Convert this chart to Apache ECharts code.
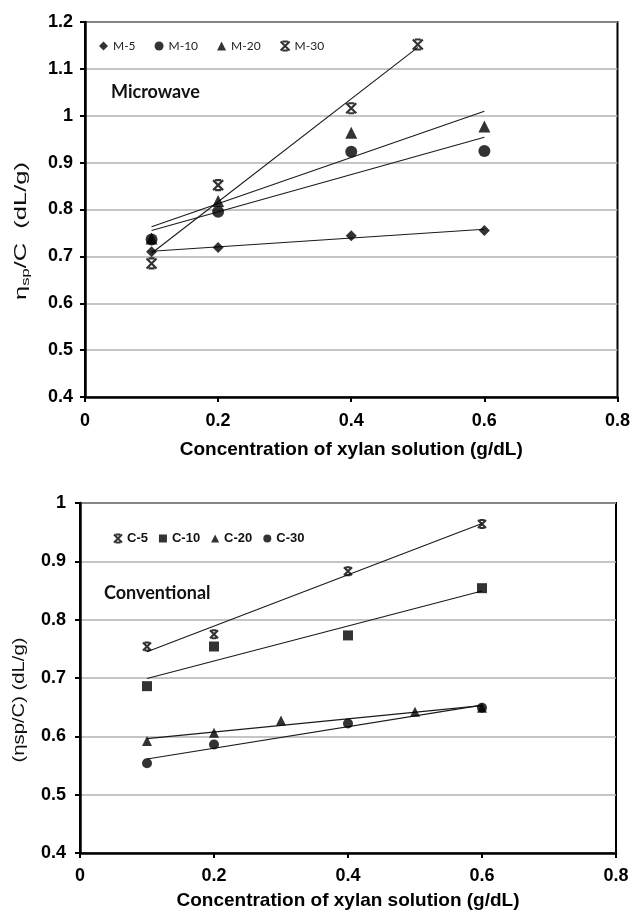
<!DOCTYPE html>
<html>
<head>
<meta charset="utf-8">
<script src="https://cdn.jsdelivr.net/npm/echarts@6/dist/echarts.min.js"></script>
<style>
html,body{margin:0;padding:0;background:#fff;}
#chart{width:633px;height:911px;}
</style>
</head>
<body>
<div id="chart"></div>
<script>
// ---- Data ----
const xTicksTop = [0, 0.2, 0.4, 0.6, 0.8];
const yTicksTop = [0.4, 0.5, 0.6, 0.7, 0.8, 0.9, 1.0, 1.1, 1.2];
const yTicksBottom = [0.4, 0.5, 0.6, 0.7, 0.8, 0.9, 1.0];

const namesTop = ['M-5', 'M-10', 'M-20', 'M-30'];
const xM5 = [0.1, 0.2, 0.4, 0.6];
const yM5 = [0.710, 0.719, 0.744, 0.755];
const xM10 = [0.1, 0.2, 0.4, 0.6];
const yM10 = [0.736, 0.795, 0.923, 0.925];
const xM20 = [0.1, 0.2, 0.4, 0.6];
const yM20 = [0.738, 0.818, 0.964, 0.977];
const xM30 = [0.1, 0.2, 0.4, 0.5];
const yM30 = [0.685, 0.852, 1.016, 1.152];

const namesBottom = ['C-5', 'C-10', 'C-20', 'C-30'];
const xC5 = [0.1, 0.2, 0.4, 0.6];
const yC5 = [0.754, 0.775, 0.883, 0.964];
const xC10 = [0.1, 0.2, 0.4, 0.6];
const yC10 = [0.686, 0.754, 0.773, 0.854];
const xC20 = [0.1, 0.2, 0.3, 0.5, 0.6];
const yC20 = [0.592, 0.606, 0.627, 0.642, 0.649];
const xC30 = [0.1, 0.2, 0.4, 0.6];
const yC30 = [0.554, 0.586, 0.622, 0.649];

// ---- helpers ----
function pairs(xs, ys) { return xs.map((x, i) => [x, ys[i]]); }
// linear least-squares trendline (as Excel's linear trendline), spanning data x-range
function trend(xs, ys) {
  const n = xs.length;
  const mx = xs.reduce((a, b) => a + b, 0) / n;
  const my = ys.reduce((a, b) => a + b, 0) / n;
  let sxx = 0, sxy = 0;
  for (let i = 0; i < n; i++) { sxx += (xs[i] - mx) ** 2; sxy += (xs[i] - mx) * (ys[i] - my); }
  const b = sxy / sxx, a = my - b * mx;
  const x0 = Math.min(...xs), x1 = Math.max(...xs);
  return [[x0, a + b * x0], [x1, a + b * x1]];
}

const STAR = 'path://M2,0L8,0M2,10L8,10M0,0L10,10M10,0L0,10';

function scatter(name, xs, ys, idx, symbol, size, stroke) {
  const s = {
    name: name, type: 'scatter', xAxisIndex: idx, yAxisIndex: idx,
    data: pairs(xs, ys), symbol: symbol, symbolSize: size, z: 5,
    itemStyle: { color: '#000' }, emphasis: { disabled: true }
  };
  if (stroke) s.itemStyle = { color: 'rgba(0,0,0,0)', borderColor: '#000', borderWidth: 2.2 };
  return s;
}
function tline(xs, ys, idx) {
  return {
    type: 'line', xAxisIndex: idx, yAxisIndex: idx, data: trend(xs, ys),
    showSymbol: false, symbol: 'none', z: 3, silent: true,
    lineStyle: { color: '#1a1a1a', width: 1.1 }
  };
}

const tickFont = { fontFamily: 'Liberation Sans, Arial, sans-serif', fontWeight: 'bold', fontSize: 18, color: '#000' };
const axisLine = { show: true, onZero: false, lineStyle: { color: '#000', width: 2.5 } };
const axisTick = { show: true, inside: false, length: 5, lineStyle: { color: '#000', width: 2 } };

const chart = echarts.init(document.getElementById('chart'), null, { renderer: 'canvas' });
const option = {
  animation: false,
  backgroundColor: '#fff',
  grid: [
    { left: 85, top: 22, width: 535, height: 375, show: true, borderColor: '#000', borderWidth: 2, backgroundColor: 'transparent' },
    { left: 80, top: 503, width: 536, height: 350, show: true, borderColor: '#000', borderWidth: 2, backgroundColor: 'transparent' }
  ],
  xAxis: [
    { type: 'value', gridIndex: 0, min: xTicksTop[0], max: xTicksTop[xTicksTop.length - 1], interval: 0.2,
      axisLine: axisLine, axisTick: axisTick, splitLine: { show: false },
      axisLabel: Object.assign({ margin: 15 }, tickFont),
      name: 'Concentration of xylan solution (g/dL)', nameLocation: 'middle', nameGap: 43,
      nameTextStyle: { fontFamily: 'Liberation Sans, Arial, sans-serif', fontWeight: 'bold', fontSize: 19, color: '#000' } },
    { type: 'value', gridIndex: 1, min: xTicksTop[0], max: xTicksTop[xTicksTop.length - 1], interval: 0.2,
      axisLine: axisLine, axisTick: axisTick, splitLine: { show: false },
      axisLabel: Object.assign({ margin: 14 }, tickFont),
      name: 'Concentration of xylan solution (g/dL)', nameLocation: 'middle', nameGap: 38,
      nameTextStyle: { fontFamily: 'Liberation Sans, Arial, sans-serif', fontWeight: 'bold', fontSize: 19, color: '#000' } }
  ],
  yAxis: [
    { type: 'value', gridIndex: 0, min: yTicksTop[0], max: yTicksTop[yTicksTop.length - 1], interval: 0.1,
      axisLine: axisLine, axisTick: axisTick,
      splitLine: { show: true, lineStyle: { color: '#b2b2b2', width: 1.5 } },
      axisLabel: Object.assign({ margin: 12 }, tickFont) },
    { type: 'value', gridIndex: 1, min: yTicksBottom[0], max: yTicksBottom[yTicksBottom.length - 1], interval: 0.1,
      axisLine: axisLine, axisTick: axisTick,
      splitLine: { show: true, lineStyle: { color: '#b2b2b2', width: 1.5 } },
      axisLabel: Object.assign({ margin: 14 }, tickFont) }
  ],
  legend: [
    { data: namesTop, left: 94, top: 35, orient: 'horizontal', itemWidth: 9, itemHeight: 9, itemGap: 19,
      textStyle: { fontFamily: 'Lato, sans-serif', fontSize: 12, color: '#222' }, selectedMode: false },
    { data: namesBottom, left: 108, top: 527, orient: 'horizontal', itemWidth: 8, itemHeight: 8, itemGap: 11,
      textStyle: { fontFamily: 'Liberation Sans, Arial, sans-serif', fontWeight: 'bold', fontSize: 13, color: '#111' }, selectedMode: false }
  ],
  graphic: [
    { type: 'text', x: 111, y: 92, z: 10,
      style: { text: 'Microwave', fontFamily: 'Lato, sans-serif', fontWeight: 'bold', fontSize: 18, fill: '#111', align: 'left', verticalAlign: 'middle' } },
    { type: 'text', x: 104, y: 593, z: 10,
      style: { text: 'Conventional', fontFamily: 'Lato, sans-serif', fontWeight: 'bold', fontSize: 18, fill: '#111', align: 'left', verticalAlign: 'middle' } },
    { type: 'text', x: 21, y: 231, rotation: Math.PI / 2, scaleX: 1.5, z: 10,
      style: { text: 'η{s|sp}/C  (dL/g)', fontFamily: 'Liberation Sans, Arial, sans-serif', fontSize: 17, fill: '#111',
        align: 'center', verticalAlign: 'middle',
        rich: { s: { fontFamily: 'Liberation Sans, Arial, sans-serif', fontSize: 11, fill: '#111', padding: [9, 0, 0, 0] } } } },
    { type: 'text', x: 19, y: 700, rotation: Math.PI / 2, scaleX: 1.19, z: 10,
      style: { text: '(ηsp/C) (dL/g)', fontFamily: 'Liberation Sans, Arial, sans-serif', fontSize: 17, fill: '#111',
        align: 'center', verticalAlign: 'middle' } }
  ],
  series: [
    tline(xM5, yM5, 0), tline(xM10, yM10, 0), tline(xM20, yM20, 0), tline(xM30, yM30, 0),
    scatter('M-5', xM5, yM5, 0, 'diamond', 11),
    scatter('M-10', xM10, yM10, 0, 'circle', 12),
    scatter('M-20', xM20, yM20, 0, 'triangle', 12),
    scatter('M-30', xM30, yM30, 0, STAR, 10, true),
    tline(xC5, yC5, 1), tline(xC10, yC10, 1), tline(xC20, yC20, 1), tline(xC30, yC30, 1),
    scatter('C-5', xC5, yC5, 1, STAR, 8, true),
    scatter('C-10', xC10, yC10, 1, 'rect', 10),
    scatter('C-20', xC20, yC20, 1, 'triangle', 10),
    scatter('C-30', xC30, yC30, 1, 'circle', 10)
  ]
};
chart.setOption(option);
</script>
</body>
</html>
